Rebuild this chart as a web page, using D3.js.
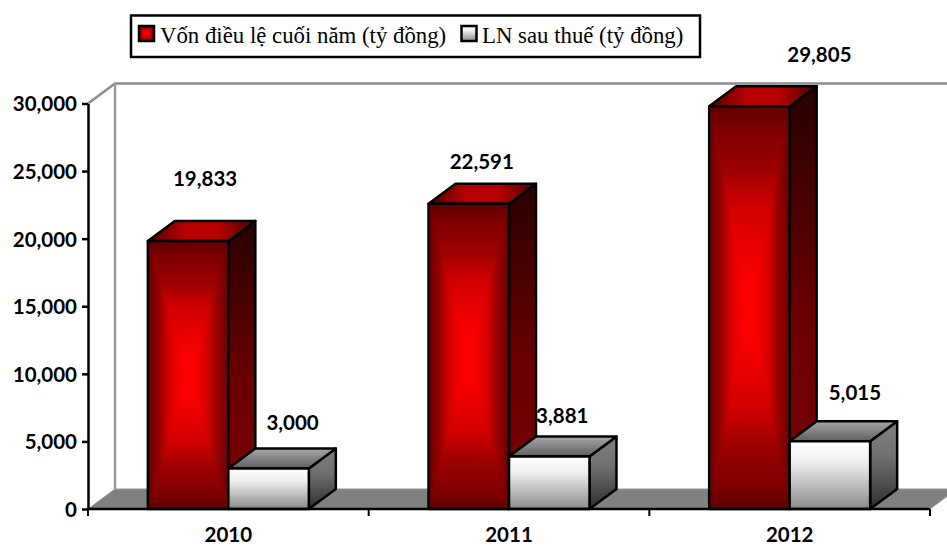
<!DOCTYPE html>
<html><head><meta charset="utf-8">
<script src="https://cdn.jsdelivr.net/npm/d3@7"></script>
<style>html,body{margin:0;padding:0;background:#fff}svg{display:block}</style>
</head><body><svg id="c" width="947" height="547"></svg>
<script>
const categories = ["2010","2011","2012"];
const vonValues = [19833,22591,29805];
const lnValues = [3000,3881,5015];
const seriesNames = ["Vốn điều lệ cuối năm (tỷ đồng)","LN sau thuế (tỷ đồng)"];
const yTicks = [0,5000,10000,15000,20000,25000,30000];
// manual data-label displacement from each bar's top centre
const vonLabelDx = [17,13,70], vonLabelDy = [-62,-42,-52];
const lnLabelDx = [24,13,25], lnLabelDy = [-46,-41,-49];

const W=947,H=547, left=88, right=930, y0=509, yTop=103.5, dX=27, dY=-20, sw=2.5;
const svg=d3.select("#c");
const defs=svg.append("defs");
function grad(id,x1,y1,x2,y2,stops){
  const g=defs.append("linearGradient").attr("id",id).attr("x1",x1).attr("y1",y1).attr("x2",x2).attr("y2",y2);
  stops.forEach(s=>g.append("stop").attr("offset",s[0]).attr("stop-color",s[1]).attr("stop-opacity",s[2]===undefined?1:s[2]));
}
grad("redSide",0,0,0,1,[[0,"#280000"],[.55,"#6c0000"],[1,"#7a0000"]]);
grad("redTop",0,0,1,0,[[0,"#4a0000"],[.35,"#b80000"],[.65,"#b80000"],[1,"#4a0000"]]);
grad("whiteF",0,0,0,1,[[0,"#ffffff"],[.3,"#f0f0f0"],[1,"#8a8a8a"]]);
grad("whiteS",0,0,0,1,[[0,"#808080"],[.4,"#707070"],[1,"#2e2e2e"]]);
grad("whiteT",0,0,0,1,[[0,"#a8a8a8"],[1,"#5e5e5e"]]);

const y=d3.scaleLinear().domain([0,30000]).range([y0,yTop]);
const x=d3.scaleBand().domain(categories).range([left,right]);
const inner=d3.scaleBand().domain([0,1]).range([0,x.bandwidth()]).paddingOuter(.7435).paddingInner(0);

// rectangular "path" gradient: dark rim to a bright centre
const rimColor=d3.scaleLinear().domain([0,.1,.3,.5,.8,1]).range(["#640000","#7e0000","#9c0000","#d40000","#f80000","#ff0000"]).interpolate(d3.interpolateRgb);
function rectGrad(g,xl,t,w,h){
  const steps=d3.range(0,1,1/36);
  g.selectAll(null).data(steps).enter().append("rect")
    .attr("x",d=>xl+d*w/2).attr("y",d=>t+d*h/2)
    .attr("width",d=>w*(1-d)).attr("height",d=>h*(1-d))
    .attr("fill",d=>rimColor(d));
}

// walls
svg.append("path").attr("d",`M${left},${y0}L${left+dX},${y0+dY}L${right+dX},${y0+dY}L${right},${y0}Z`).attr("fill","#808080").attr("stroke","#9a9a9a").attr("stroke-width",1);
svg.append("path").attr("d",`M${left},${yTop}L${left+dX},${yTop+dY}L${W+5},${yTop+dY}`).attr("fill","none").attr("stroke","#8c8c8c").attr("stroke-width",2.5);
svg.append("line").attr("x1",left+dX).attr("x2",left+dX).attr("y1",yTop+dY).attr("y2",y0+dY).attr("stroke","#9a9a9a").attr("stroke-width",2.5);

// data labels sit behind the bars
const font="Lato, 'Open Sans', sans-serif", fs=20.5;
const lab=svg.append("g").attr("font-family",font).attr("font-weight",700).attr("font-size",fs).attr("fill","#000").attr("text-anchor","middle");
const fmt=d3.format(",");
categories.forEach((c,i)=>{
  lab.append("text").attr("x",x(c)+inner(0)+inner.bandwidth()/2+vonLabelDx[i]).attr("y",y(vonValues[i])+vonLabelDy[i]).attr("dy","0.36em").text(fmt(vonValues[i]));
  lab.append("text").attr("x",x(c)+inner(1)+inner.bandwidth()/2+lnLabelDx[i]).attr("y",y(lnValues[i])+lnLabelDy[i]).attr("dy","0.36em").text(fmt(lnValues[i]));
});

function bar(g,xl,w,v,red){
  const t=y(v),b=y0;
  const edge=s=>s.attr("stroke","#000").attr("stroke-width",sw).attr("stroke-linejoin","round");
  edge(g.append("path").attr("d",`M${xl+w},${t}L${xl+w+dX},${t+dY}L${xl+w+dX},${b+dY}L${xl+w},${b}Z`).attr("fill",red?"url(#redSide)":"url(#whiteS)"));
  edge(g.append("path").attr("d",`M${xl},${t}L${xl+dX},${t+dY}L${xl+w+dX},${t+dY}L${xl+w},${t}Z`).attr("fill",red?"url(#redTop)":"url(#whiteT)"));
  if(red) rectGrad(g.append("g"),xl,t,w,b-t);
  else g.append("rect").attr("x",xl).attr("y",t).attr("width",w).attr("height",b-t).attr("fill","url(#whiteF)");
  edge(g.append("rect").attr("x",xl).attr("y",t).attr("width",w).attr("height",b-t).attr("fill","none"));
}
const bars=svg.append("g");
categories.forEach((c,i)=>{
  const bx=x(c);
  bar(bars,bx+inner(0),inner.bandwidth(),vonValues[i],true);
  bar(bars,bx+inner(1),inner.bandwidth(),lnValues[i],false);
});

// axes
const yAxis=d3.axisLeft(y).tickValues(yTicks).tickFormat(d3.format(",")).tickSize(6).tickSizeOuter(0);
const ya=svg.append("g").attr("transform",`translate(${left},0)`).call(yAxis);
ya.selectAll("path,line").attr("stroke","#000").attr("stroke-width",2.5);
ya.selectAll("text").attr("font-family",font).attr("font-weight",700).attr("font-size",fs).attr("fill","#000").attr("x",-11).attr("dy","0.36em");
const xAxis=d3.axisBottom(x).tickSize(0);
const xa=svg.append("g").attr("transform",`translate(0,${y0})`).call(xAxis);
xa.selectAll("path").remove();xa.selectAll("line").remove();
xa.selectAll("text").attr("font-family",font).attr("font-weight",700).attr("font-size",fs).attr("fill","#000").attr("y",18.8).attr("dy","0.71em");
svg.append("line").attr("x1",left).attr("x2",right).attr("y1",y0).attr("y2",y0).attr("stroke","#000").attr("stroke-width",2.5);
const xTickPos=[...categories.map(c=>x(c)),right];
svg.selectAll(".xt").data(xTickPos).enter().append("line").attr("x1",d=>d).attr("x2",d=>d).attr("y1",y0).attr("y2",y0+7).attr("stroke","#000").attr("stroke-width",2);

// legend
const lg=svg.append("g");
lg.append("rect").attr("x",131).attr("y",15.5).attr("width",569).attr("height",41.5).attr("fill","#fff").attr("stroke","#000").attr("stroke-width",2.5);
const legendX=[139,461.5];
const legendTextX=[160,482];
seriesNames.forEach((n,i)=>{
  const g=lg.append("g");
  if(i===0) rectGrad(g,legendX[i],26,15,15);
  else g.append("rect").attr("x",legendX[i]).attr("y",26).attr("width",15).attr("height",15).attr("fill","url(#whiteF)");
  g.append("rect").attr("x",legendX[i]).attr("y",26).attr("width",15).attr("height",15).attr("fill","none").attr("stroke","#000").attr("stroke-width",2.5);
  lg.append("text").attr("x",legendTextX[i]).attr("y",42.5).attr("font-family","'Liberation Serif',serif").attr("font-size",22.8).attr("fill","#000").text(n);
});
</script></body></html>
